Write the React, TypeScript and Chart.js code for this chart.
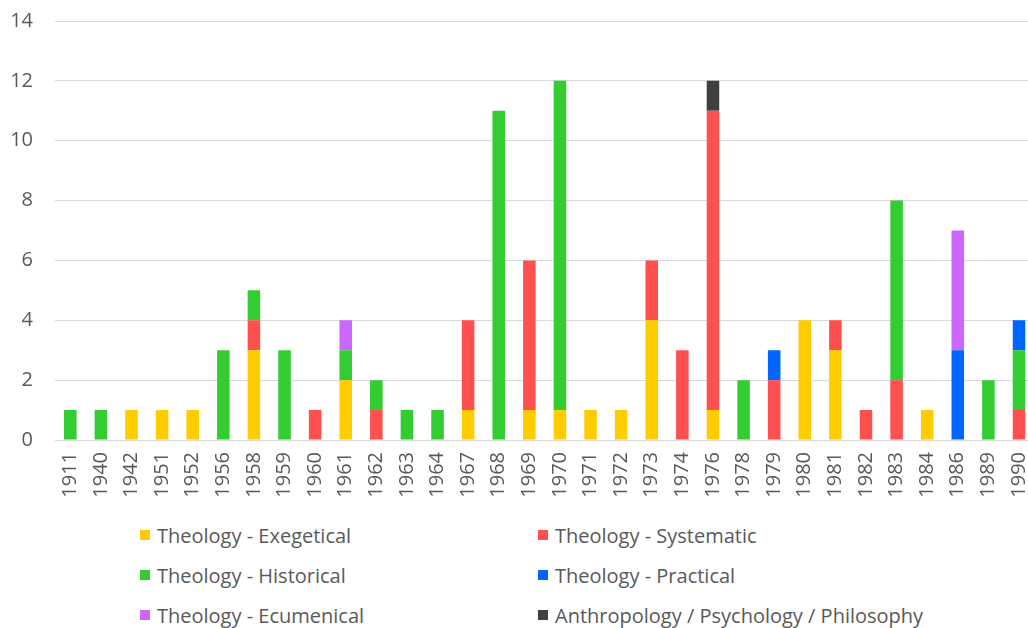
import React, { useEffect, useRef } from "react";
import { Chart, registerables } from "chart.js";

Chart.register(...registerables);

const years = ["1911","1940","1942","1951","1952","1956","1958","1959","1960","1961","1962","1963","1964","1967","1968","1969","1970","1971","1972","1973","1974","1976","1978","1979","1980","1981","1982","1983","1984","1986","1989","1990"];

const exegetical = [0,0,1,1,1,0,3,0,0,2,0,0,0,1,0,1,1,1,1,4,0,1,0,0,4,3,0,0,1,0,0,0];
const systematic = [0,0,0,0,0,0,1,0,1,0,1,0,0,3,0,5,0,0,0,2,3,10,0,2,0,1,1,2,0,0,0,1];
const historical = [1,1,0,0,0,3,1,3,0,1,1,1,1,0,11,0,11,0,0,0,0,0,2,0,0,0,0,6,0,0,2,2];
const practical = [0,0,0,0,0,0,0,0,0,0,0,0,0,0,0,0,0,0,0,0,0,0,0,1,0,0,0,0,0,3,0,1];
const ecumenical = [0,0,0,0,0,0,0,0,0,1,0,0,0,0,0,0,0,0,0,0,0,0,0,0,0,0,0,0,0,4,0,0];
const anthropology = [0,0,0,0,0,0,0,0,0,0,0,0,0,0,0,0,0,0,0,0,0,1,0,0,0,0,0,0,0,0,0,0];

const seriesLabels = [
  "Theology - Exegetical",
  "Theology - Systematic",
  "Theology - Historical",
  "Theology - Practical",
  "Theology - Ecumenical",
  "Anthropology / Psychology / Philosophy",
];
const seriesColors = ["#FFCC00", "#FF5050", "#33CC33", "#0066FF", "#CC66FF", "#404040"];
const seriesData = [exegetical, systematic, historical, practical, ecumenical, anthropology];

const FONT = "'Open Sans', 'Noto Sans', sans-serif";

export default function App() {
  const ref = useRef<HTMLCanvasElement | null>(null);

  useEffect(() => {
    if (!ref.current) return;
    const chart = new Chart(ref.current, {
      type: "bar",
      data: {
        labels: years,
        datasets: seriesLabels.map((label, i) => ({
          label,
          data: seriesData[i],
          backgroundColor: seriesColors[i],
          borderWidth: 0,
          barPercentage: 0.41,
          categoryPercentage: 1,
        })),
      },
      options: {
        responsive: false,
        animation: false,
        layout: { padding: { top: 7, right: 0, left: 0, bottom: 0 } },
        plugins: { legend: { display: false }, tooltip: { enabled: false } },
        scales: {
          x: {
            stacked: true,
            grid: { display: false },
            border: { display: true, color: "#D9D9D9", width: 1 },
            ticks: {
              color: "#595959",
              font: { family: FONT, size: 20 },
              minRotation: 90,
              maxRotation: 90,
              autoSkip: false,
              padding: 4,
            },
            afterFit: (s: any) => {
              s.height = 80;
            },
          },
          y: {
            stacked: true,
            min: 0,
            max: 14,
            grid: { color: "#D9D9D9", lineWidth: 1, drawTicks: false },
            border: { display: false },
            ticks: {
              stepSize: 2,
              color: "#595959",
              font: { family: FONT, size: 20 },
              padding: 22,
            },
            afterFit: (s: any) => {
              s.width = 55;
            },
          },
        },
      },
    });
    return () => chart.destroy();
  }, []);

  const legendPos = [
    { x: 140, y: 535 },
    { x: 538, y: 535 },
    { x: 140, y: 575 },
    { x: 538, y: 575 },
    { x: 140, y: 615 },
    { x: 538, y: 615 },
  ];

  return (
    <div
      style={{
        position: "fixed",
        left: 0,
        top: 0,
        width: 1028,
        height: 628,
        overflow: "hidden",
        background: "#fff",
      }}
    >
      <canvas
        ref={ref}
        width={1047}
        height={533}
        style={{ width: 1047, height: 533, display: "block", position: "absolute", left: 0, top: -13 }}
      />
      {seriesLabels.map((label, i) => (
        <div
          key={label}
          style={{
            position: "absolute",
            left: legendPos[i].x,
            top: legendPos[i].y - 14,
            height: 28,
            display: "flex",
            alignItems: "center",
            whiteSpace: "nowrap",
            fontFamily: FONT,
            fontSize: 20,
            color: "#595959",
          }}
        >
          <span
            style={{
              display: "inline-block",
              width: 10,
              height: 10,
              background: seriesColors[i],
              marginRight: 7,
            }}
          />
          <span>{label}</span>
        </div>
      ))}
    </div>
  );
}
